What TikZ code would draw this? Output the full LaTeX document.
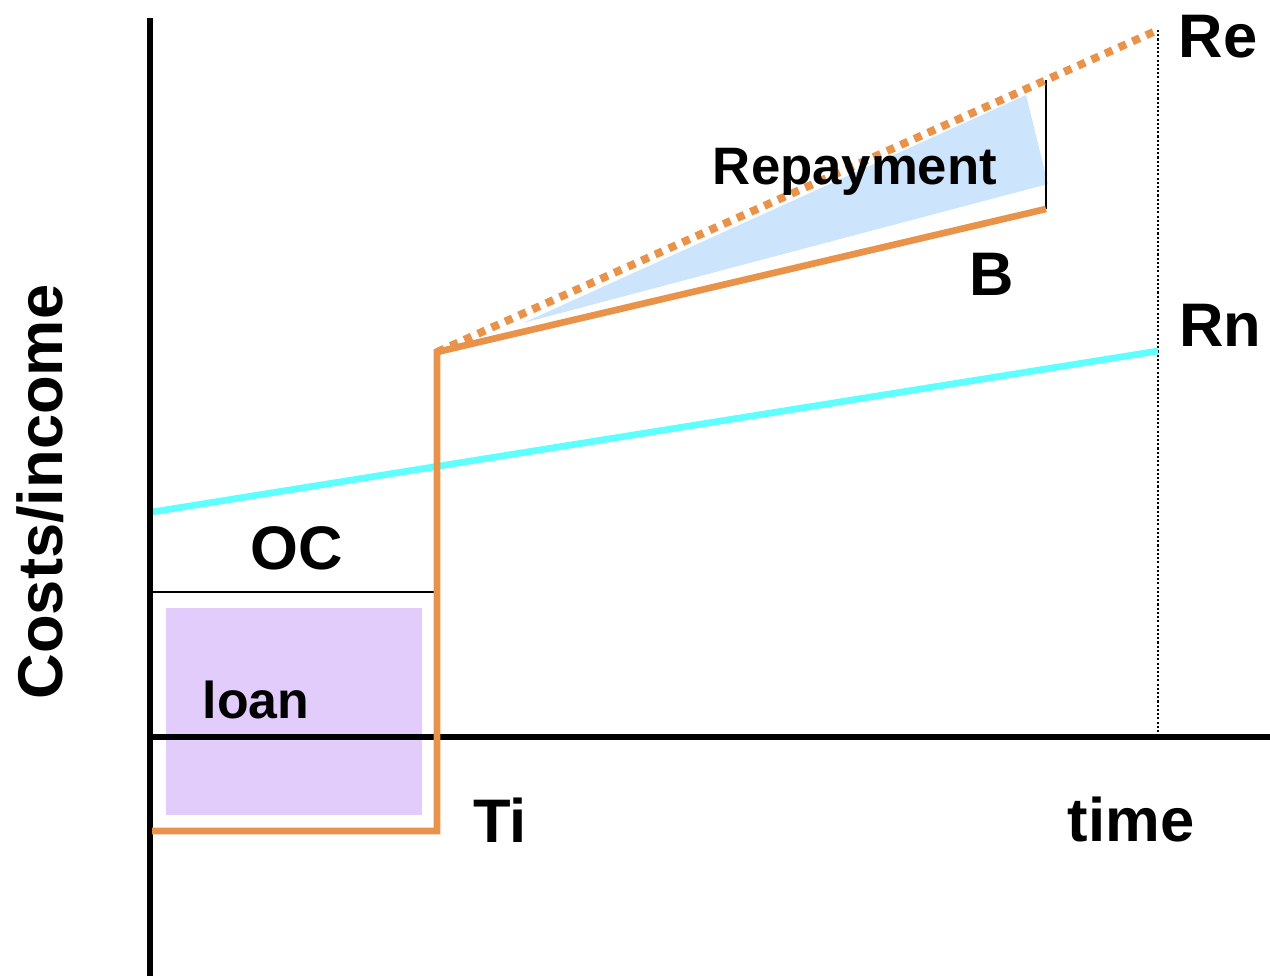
\documentclass[tikz,border=0pt]{standalone}
\usepackage{fontspec}
\setmainfont{Liberation Sans}
\definecolor{orangeL}{RGB}{232,146,74}
\definecolor{cyanL}{RGB}{95,255,255}
\definecolor{blueF}{RGB}{204,229,252}
\definecolor{purpleF}{RGB}{226,204,252}
\begin{document}
\begin{tikzpicture}[x=0.02cm,y=-0.02cm,
  axis/.style={line width=3.9pt,black},
  orangeline/.style={line width=3.8pt,orangeL},
  orangedots/.style={line width=4.5pt,orangeL,dash pattern=on 4.5pt off 4pt},
  lbl/.style={font=\fontsize{35}{40}\selectfont\bfseries,inner sep=0pt},
  smalllbl/.style={font=\fontsize{30}{34}\selectfont\bfseries,inner sep=0pt}]
\useasboundingbox (0,0) rectangle (1270,976);
% fills
\fill[purpleF] (166,608) rectangle (422,815);
\coordinate (t1) at (523,323);
\coordinate (t2) at (1026,95);
\coordinate (t3) at (1048,184);
\fill[blueF] (t1) -- (t2) -- (t3) -- cycle;
% coordinates
\coordinate (yTop) at (150,18);
\coordinate (yBot) at (150,976);
\coordinate (xL) at (150,737);
\coordinate (xR) at (1270,737);
\coordinate (o0) at (152,831);
\coordinate (o1) at (437,831);
\coordinate (o2) at (437,352);
\coordinate (o3) at (1046,209);
\coordinate (re) at (1158,30);
\coordinate (tEnd) at (1158,737);
\coordinate (c0) at (152,512);
\coordinate (c1) at (1158,351);
\coordinate (oc0) at (152,592);
\coordinate (oc1) at (437,592);
\coordinate (v0) at (1046,80);
% lines
\draw[line width=1pt,dash pattern=on 1.2pt off 1.2pt] (re) -- (tEnd);
\draw[line width=1pt] (oc0) -- (oc1);
\draw[line width=1.3pt] (v0) -- (o3);
\draw[line width=3.8pt,cyanL] (c0) -- (c1);
\draw[orangedots] (o2) -- (re);
\draw[axis] (yTop) -- (yBot);
\draw[axis] (xL) -- (xR);
\draw[orangeline,line join=miter] (o0) -- (o1) -- (o2) -- (o3);
% labels
\node[lbl] (Re) at (1218,37) {Re};
\node[lbl] (Rn) at (1220,325) {Rn};
\node[lbl] (B) at (992,274) {B};
\node[smalllbl] (Rep) at (855,172) {Repayment};
\node[lbl] (OC) at (297,548) {OC};
\node[lbl,font=\fontsize{29.5}{34}\selectfont\bfseries] (loan) at (256,700) {loan};
\node[lbl] (Ti) at (500,820) {Ti};
\node[lbl] (time) at (1131,820) {time};
\node[lbl,font=\fontsize{36}{40}\selectfont\bfseries,rotate=90] (ax) at (40,492) {Costs/income};
\end{tikzpicture}
\end{document}
